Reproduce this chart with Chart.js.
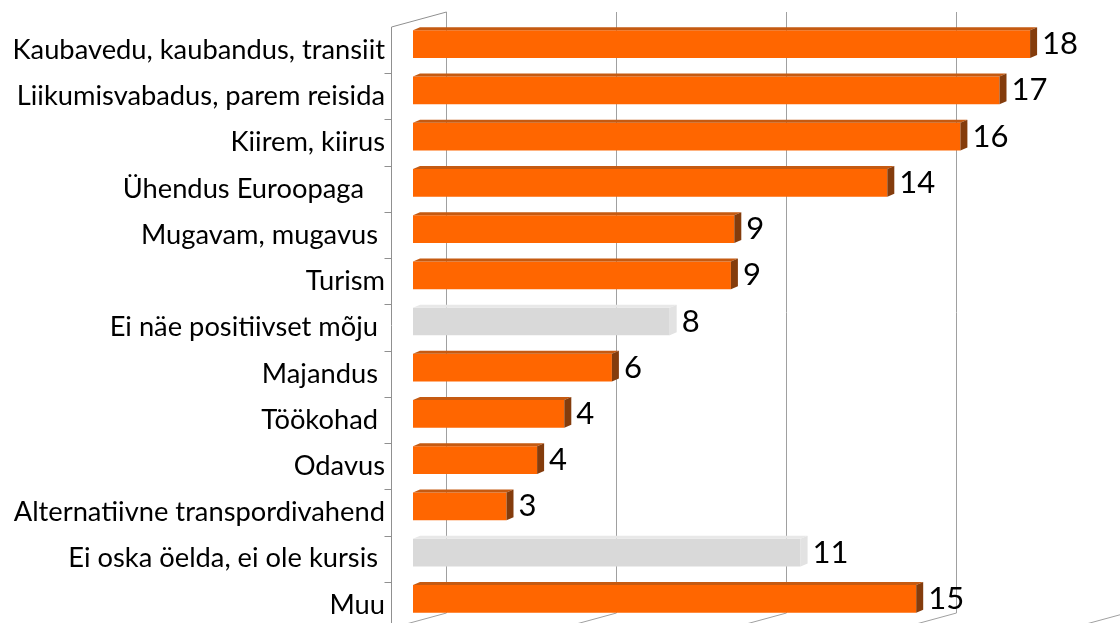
<!DOCTYPE html>
<html>
<head>
<meta charset="utf-8">
<script src="https://cdn.jsdelivr.net/npm/chart.js@4.4.0/dist/chart.umd.min.js"></script>
<style>
html, body { margin: 0; padding: 0; background: #fff; overflow: hidden; }
#wrap { width: 1120px; height: 623px; }
</style>
</head>
<body>
<div id="wrap"><canvas id="answers"></canvas></div>
<script>
// answers, top to bottom as in the picture
var answers = [
    'Kaubavedu, kaubandus, transiit',
    'Liikumisvabadus, parem reisida',
    'Kiirem, kiirus',
    'Ühendus Euroopaga   ',
    'Mugavam, mugavus ',
    'Turism',
    'Ei näe positiivset mõju ',
    'Majandus ',
    'Töökohad ',
    'Odavus',
    'Alternatiivne transpordivahend',
    'Ei oska öelda, ei ole kursis ',
    'Muu'
];
// bar lengths (%)
var shares = [18.15, 17.25, 16.1, 13.95, 9.45, 9.35, 7.55, 5.85, 4.45, 3.65, 2.75, 11.4, 14.8];
// numbers printed next to the bars
var shownValues = ['18', '17', '16', '14', '9', '9', '8', '6', '4', '4', '3', '11', '15'];
// answers drawn in grey
var neutralAnswers = ['Ei näe positiivset mõju ', 'Ei oska öelda, ei ole kursis '];
var gridValues = [0, 5, 10, 15, 20];

var ORANGE = '#ff6600', ORANGE_TOP = '#c55a11', ORANGE_SIDE = '#843c0c';
var GREY = '#d9d9d9', GREY_TOP = '#e8e8e8', GREY_SIDE = '#e2e2e2';

function isNeutral(i) {
    return neutralAnswers.indexOf(answers[i]) >= 0;
}

// back wall, left wall and floor edges of the 3-D plot
var wall3d = {
    id: 'wall3d',
    beforeDatasetsDraw: function(chart) {
        var ctx = chart.ctx, xs = chart.scales.x, ys = chart.scales.y;
        var depthX = 55, depthY = 15, backTop = 12, backBottom = 613;
        ctx.save();
        ctx.lineWidth = 1;
        ctx.strokeStyle = '#a0a0a0';
        gridValues.forEach(function(v) {
            var back = Math.round(xs.getPixelForValue(v)) + 33.5;
            ctx.beginPath();
            ctx.moveTo(back, backTop);
            ctx.lineTo(back, backBottom);
            ctx.lineTo(back - depthX, backBottom + depthY);
            ctx.stroke();
        });
        var wallX = Math.round(xs.getPixelForValue(0)) + 33.5 - depthX;
        ctx.strokeStyle = '#909090';
        ctx.beginPath();
        ctx.moveTo(wallX, chart.height + 5);
        ctx.lineTo(wallX, backTop + depthY);
        ctx.lineTo(wallX + depthX, backTop);
        ctx.stroke();
        var step = ys.getPixelForValue(1) - ys.getPixelForValue(0);
        for (var i = 0; i < answers.length; i++) {
            var yy = Math.round(ys.getPixelForValue(i) + step / 2 + 6) + 0.5;
            ctx.beginPath();
            ctx.moveTo(wallX - 7, yy);
            ctx.lineTo(wallX, yy);
            ctx.stroke();
        }
        ctx.restore();
    },
    afterDatasetsDraw: function(chart) {
        var ctx = chart.ctx;
        var meta = chart.getDatasetMeta(0);
        var dx = 7, dy = 3;
        ctx.save();
        meta.data.forEach(function(bar, i) {
            var p = bar.getProps(['x', 'y', 'base', 'height'], true);
            var top = p.y - p.height / 2, bottom = p.y + p.height / 2;
            var neutral = isNeutral(i);
            // top face
            ctx.fillStyle = neutral ? GREY_TOP : ORANGE_TOP;
            ctx.beginPath();
            ctx.moveTo(p.base, top);
            ctx.lineTo(p.base + dx, top - dy);
            ctx.lineTo(p.x + dx, top - dy);
            ctx.lineTo(p.x, top);
            ctx.closePath();
            ctx.fill();
            // side face
            ctx.fillStyle = neutral ? GREY_SIDE : ORANGE_SIDE;
            ctx.beginPath();
            ctx.moveTo(p.x, top);
            ctx.lineTo(p.x + dx, top - dy);
            ctx.lineTo(p.x + dx, bottom - dy);
            ctx.lineTo(p.x, bottom);
            ctx.closePath();
            ctx.fill();
            // value
            ctx.fillStyle = '#000';
            ctx.font = '31px Lato';
            ctx.textAlign = 'left';
            ctx.textBaseline = 'middle';
            ctx.fillText(shownValues[i], p.x + dx + 5, p.y);
        });
        ctx.restore();
    }
};

var chart = new Chart(document.getElementById('answers'), {
    type: 'bar',
    data: {
        labels: answers,
        datasets: [{
            data: shares,
            backgroundColor: answers.map(function(a, i) { return isNeutral(i) ? GREY : ORANGE; }),
            borderWidth: 0,
            barPercentage: 0.6,
            categoryPercentage: 1
        }]
    },
    options: {
        indexAxis: 'y',
        responsive: true,
        maintainAspectRatio: false,
        animation: false,
        devicePixelRatio: 1,
        layout: { padding: { top: 21, bottom: 1, right: 27, left: 0 } },
        plugins: { legend: { display: false }, tooltip: { enabled: false } },
        scales: {
            x: { display: false, min: 0, max: 20 },
            y: {
                grid: { display: false, drawTicks: false },
                border: { display: false },
                ticks: {
                    color: '#000',
                    padding: 28,
                    labelOffset: 6,
                    font: { family: 'Lato', size: 27.3 }
                },
                afterFit: function(scale) {
                    scale.width = 413;
                    scale.paddingTop = 0;
                    scale.paddingBottom = 0;
                }
            }
        }
    },
    plugins: [wall3d]
});
</script>
</body>
</html>
